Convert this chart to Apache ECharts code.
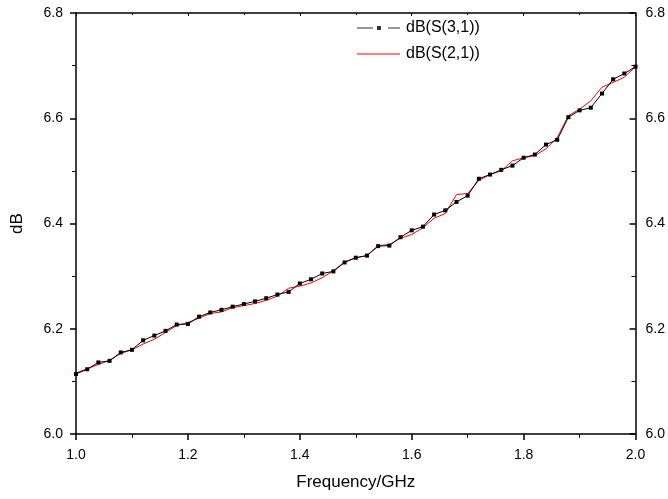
<!DOCTYPE html>
<html lang="en">
<head>
    <meta charset="UTF-8">
    <title>dB S-parameters</title>
    <style>
        html, body {
            margin: 0;
            background-color: #fff;
        }
    </style>
</head>
<body>
<div id="chart" style="width: 668px;height:499px;"></div>
<script src="https://cdn.jsdelivr.net/npm/echarts@6/dist/echarts.min.js"></script>
<script>
    var freq = [1.00, 1.02, 1.04, 1.06, 1.08, 1.10, 1.12, 1.14, 1.16, 1.18,
        1.20, 1.22, 1.24, 1.26, 1.28, 1.30, 1.32, 1.34, 1.36, 1.38,
        1.40, 1.42, 1.44, 1.46, 1.48, 1.50, 1.52, 1.54, 1.56, 1.58,
        1.60, 1.62, 1.64, 1.66, 1.68, 1.70, 1.72, 1.74, 1.76, 1.78,
        1.80, 1.82, 1.84, 1.86, 1.88, 1.90, 1.92, 1.94, 1.96, 1.98, 2.00];
    var s31 = [6.114, 6.123, 6.136, 6.139, 6.155, 6.160, 6.178, 6.187, 6.196, 6.208,
        6.209, 6.223, 6.231, 6.236, 6.242, 6.247, 6.252, 6.258, 6.265, 6.270,
        6.286, 6.294, 6.305, 6.309, 6.326, 6.335, 6.339, 6.357, 6.358, 6.374,
        6.387, 6.394, 6.417, 6.425, 6.441, 6.453, 6.485, 6.493, 6.502, 6.510,
        6.525, 6.531, 6.550, 6.559, 6.602, 6.615, 6.620, 6.647, 6.674, 6.685, 6.698];
    var s21 = [6.116, 6.124, 6.132, 6.140, 6.153, 6.160, 6.171, 6.180, 6.193, 6.206,
        6.212, 6.220, 6.229, 6.232, 6.240, 6.244, 6.248, 6.254, 6.262, 6.277,
        6.281, 6.287, 6.297, 6.310, 6.327, 6.335, 6.339, 6.358, 6.360, 6.372,
        6.379, 6.392, 6.410, 6.419, 6.455, 6.457, 6.482, 6.493, 6.500, 6.519,
        6.525, 6.529, 6.542, 6.563, 6.605, 6.617, 6.633, 6.659, 6.668, 6.678, 6.698];
    var yTicks = [6.0, 6.2, 6.4, 6.6, 6.8];
    var xTicks = [1.0, 1.2, 1.4, 1.6, 1.8, 2.0];

    var myChart = echarts.init(document.getElementById('chart'));
    var font = 'Liberation Sans, Arial, sans-serif';
    var lineStyle = {color: '#000', width: 1.5};

    var seriesA = [], seriesB = [];
    freq.forEach(function (f, i) {
        seriesA.push([f, s31[i]]);
        seriesB.push([f, s21[i]]);
    });

    // legend icons: dash - square - dash, and a plain red line
    var iconDashSquare = 'path://M0,6 h16 v1 h-16 Z M20,4.5 h4 v4 h-4 Z M31,6 h12 v1 h-12 Z';
    var iconLine = 'path://M0,0 h43 v1 h-43 Z';

    var option = {
        animation: false,
        legend: {
            orient: 'vertical',
            left: 352,
            top: 15,
            itemWidth: 43,
            itemHeight: 14,
            itemGap: 10,
            textStyle: {color: '#000', fontSize: 16, fontFamily: font, padding: [0, 0, 0, 1]},
            data: [
                {name: 'dB(S(3,1))', icon: iconDashSquare, itemStyle: {color: '#333'}},
                {name: 'dB(S(2,1))', icon: iconLine}
            ]
        },
        grid: {
            left: 76,
            right: 31,
            top: 13,
            bottom: 65
        },
        xAxis: [{
            type: 'value',
            position: 'bottom',
            min: xTicks[0],
            max: xTicks[xTicks.length - 1],
            interval: 0.2,
            name: 'Frequency/GHz',
            nameLocation: 'middle',
            nameGap: 40,
            nameTextStyle: {color: '#000', fontSize: 17, fontFamily: font},
            axisLine: {lineStyle: lineStyle},
            axisTick: {inside: false, length: 6, lineStyle: lineStyle},
            minorTick: {show: true, splitNumber: 2, length: 4, lineStyle: {color: '#000'}},
            axisLabel: {
                color: '#000', fontSize: 14, fontFamily: font, margin: 14,
                formatter: function (v) { return v.toFixed(1); }
            },
            splitLine: {show: false}
        }, {
            type: 'value',
            position: 'top',
            min: xTicks[0],
            max: xTicks[xTicks.length - 1],
            interval: 0.2,
            axisLine: {lineStyle: lineStyle},
            axisTick: {inside: true, length: 3, lineStyle: {color: '#000'}},
            minorTick: {show: true, splitNumber: 2, length: 2, lineStyle: {color: '#000'}},
            axisLabel: {show: false},
            splitLine: {show: false}
        }],
        yAxis: [{
            type: 'value',
            position: 'left',
            min: yTicks[0],
            max: yTicks[yTicks.length - 1],
            interval: 0.2,
            name: 'dB',
            nameLocation: 'middle',
            nameGap: 50,
            nameTextStyle: {color: '#000', fontSize: 17, fontFamily: font},
            axisLine: {show: true, lineStyle: lineStyle},
            axisTick: {show: true, inside: false, length: 6, lineStyle: lineStyle},
            minorTick: {show: true, splitNumber: 2, length: 4, lineStyle: {color: '#000'}},
            axisLabel: {
                color: '#000', fontSize: 14, fontFamily: font, margin: 13,
                formatter: function (v) { return v.toFixed(1); }
            },
            splitLine: {show: false}
        }, {
            type: 'value',
            position: 'right',
            min: yTicks[0],
            max: yTicks[yTicks.length - 1],
            interval: 0.2,
            axisLine: {show: true, lineStyle: lineStyle},
            axisTick: {show: true, inside: true, length: 6, lineStyle: lineStyle},
            minorTick: {show: true, splitNumber: 2, length: 4, lineStyle: {color: '#000'}},
            axisLabel: {
                color: '#000', fontSize: 14, fontFamily: font, margin: 10,
                formatter: function (v) { return v.toFixed(1); }
            },
            splitLine: {show: false}
        }],
        series: [{
            name: 'dB(S(3,1))',
            type: 'line',
            xAxisIndex: 0,
            yAxisIndex: 0,
            data: seriesA,
            symbol: 'rect',
            symbolSize: 4,
            itemStyle: {color: '#000'},
            lineStyle: {color: '#000', width: 1},
            z: 3
        }, {
            name: 'dB(S(2,1))',
            type: 'line',
            xAxisIndex: 0,
            yAxisIndex: 0,
            data: seriesB,
            showSymbol: false,
            symbol: 'none',
            itemStyle: {color: '#ff0000'},
            lineStyle: {color: '#ff0000', width: 1},
            z: 2
        }]
    };
    myChart.setOption(option);
</script>
</body>
</html>
